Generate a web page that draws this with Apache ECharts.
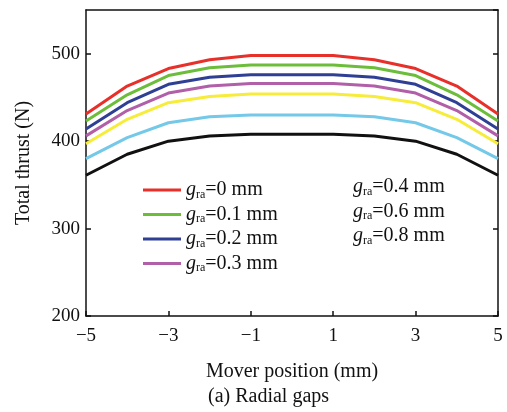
<!DOCTYPE html>
<html><head><meta charset="utf-8">
<script src="https://cdn.jsdelivr.net/npm/echarts@6/dist/echarts.min.js"></script>
<style>html,body{margin:0;padding:0;background:#fff}#c{width:507px;height:412px}</style>
</head><body><div id="c"></div>
<script>
var positions = [-5,-4,-3,-2,-1,0,1,2,3,4,5];
var gapNames = ['0','0.1','0.2','0.3','0.4','0.6','0.8'];
var gap0  = [431,463,483,493,498,498,498,493,483,463,431];
var gap01 = [423,453,475,484,487,487,487,484,475,453,423];
var gap02 = [414,444,465,473,476,476,476,473,465,444,414];
var gap03 = [406,435,455,463,466,466,466,463,455,435,406];
var gap04 = [397,425,444,451,454,454,454,451,444,425,397];
var gap06 = [380,404,421,428,430,430,430,428,421,404,380];
var gap08 = [361,385,400,406,408,408,408,406,400,385,361];
var allData = [gap0,gap01,gap02,gap03,gap04,gap06,gap08];
var colors = ['#e8302a','#6cbd3a','#2e3f94','#b05fa8','#f7ec3a','#74c8e8','#111111'];
var FONT = 'Liberation Serif';
var chart = echarts.init(document.getElementById('c'));
var series = gapNames.map(function(n,i){
  return {name:n,type:'line',symbol:'none',showSymbol:false,
    data:positions.map(function(x,j){return [x,allData[i][j]];}),
    lineStyle:{color:colors[i],width:3},itemStyle:{color:colors[i]},z:10-i};
});
var rich = {
  g:{fontFamily:FONT,fontStyle:'italic',fontSize:20,color:'#111'},
  s:{fontFamily:FONT,fontSize:12,color:'#111',verticalAlign:'bottom',padding:[9,0,0,0]},
  t:{fontFamily:FONT,fontSize:20,color:'#111'}
};
function fmt(n){return '{g|g}{s|ra}{t|=' + n + ' mm}';}
var axLine = {onZero:false,lineStyle:{color:'#111',width:1.5}};
chart.setOption({
  animation:false,
  grid:{left:86,right:9,top:10,bottom:96},
  legend:[{
    orient:'vertical',left:138,top:175,itemWidth:38,itemHeight:3,itemGap:4,icon:'rect',
    data:gapNames.slice(0,4),formatter:fmt,textStyle:{rich:rich}
  },{
    orient:'vertical',left:343,top:172,itemWidth:0,itemHeight:0,itemGap:4,icon:'rect',
    data:gapNames.slice(4),formatter:fmt,textStyle:{rich:rich}
  }],
  xAxis:[{type:'value',min:-5,max:5,interval:2,position:'bottom',
    name:'Mover position (mm)',nameLocation:'middle',nameGap:46,
    nameTextStyle:{fontFamily:FONT,fontSize:20,color:'#111'},
    axisLine:axLine,
    axisTick:{inside:true,length:5,lineStyle:{color:'#111',width:1.5}},
    axisLabel:{fontFamily:FONT,fontSize:19,color:'#111',margin:11,
      formatter:function(v){return v<0?'\u2212'+Math.abs(v):String(v);}},
    splitLine:{show:false}},
   {type:'value',min:-5,max:5,interval:2,position:'top',
    axisLine:axLine,
    axisTick:{show:false},axisLabel:{show:false},splitLine:{show:false}}],
  yAxis:[{type:'value',min:200,max:550,interval:100,position:'left',
    name:'Total thrust (N)',nameLocation:'middle',nameGap:52,
    nameTextStyle:{fontFamily:FONT,fontSize:20,color:'#111'},
    axisLine:axLine,
    axisTick:{inside:true,length:5,lineStyle:{color:'#111',width:1.5}},
    axisLabel:{fontFamily:FONT,fontSize:19,color:'#111',margin:6,showMaxLabel:false},
    splitLine:{show:false}},
   {type:'value',min:200,max:550,interval:100,position:'right',
    axisLine:axLine,
    axisTick:{inside:true,length:5,lineStyle:{color:'#111',width:1.5}},
    axisLabel:{show:false},splitLine:{show:false}}],
  graphic:[{type:'text',left:208,top:387,style:{text:'(a) Radial gaps',
    font:'20px "Liberation Serif"',fill:'#111'}}],
  series:series
});
</script></body></html>
